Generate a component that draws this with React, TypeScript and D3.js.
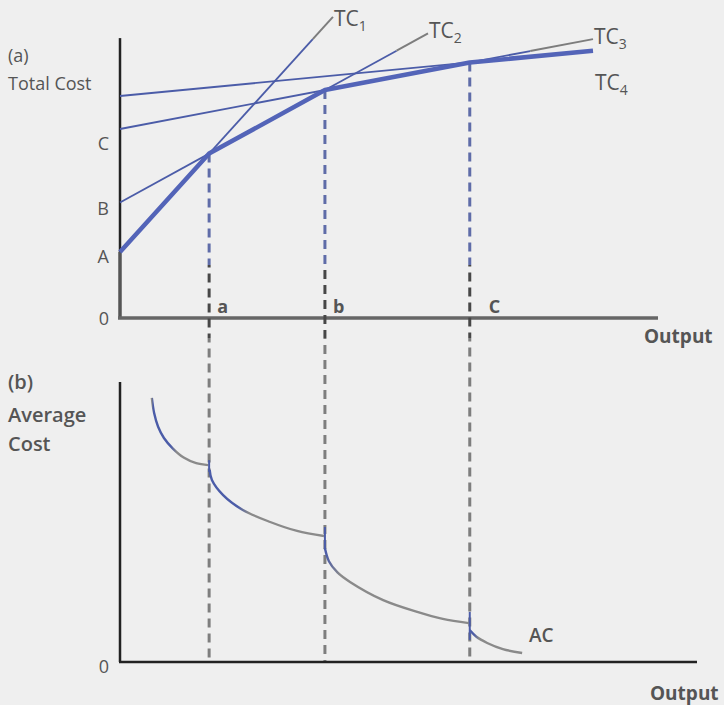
import React from 'react';
import * as d3 from 'd3';

const W = 724;
const H = 705;

// short-run total cost lines, TC = fixed cost + unit cost * output
const tcIndex = ['1', '2', '3', '4'];
const fixedCost = [2.2, 3.85, 6.3, 7.4];
const unitCost = [1.65, 0.82, 0.284, 0.143];
const lineEnd = [4.75, 6.87, 10.55, 10.55];
const greyTail = [0.45, 0.7, 1.4, 0];

const interceptLabels = ['A', 'B', 'C'];
const interceptLabelAt = [1.85, 3.43, 5.6];
const plantLabels = ['a', 'b', 'C'];

// average cost curve, one piece per plant [output, cost]
const acSeg1 = [[0.71, 9.43], [0.76, 8.9], [0.85, 8.4], [0.98, 8.0], [1.18, 7.62], [1.42, 7.3], [1.7, 7.1], [1.97, 7.03]];
const acSeg2 = [[2.0, 6.86], [2.05, 6.5], [2.3, 5.96], [2.74, 5.43], [3.35, 5.0], [3.95, 4.68], [4.55, 4.5]];
const acSeg3 = [[4.57, 4.07], [4.66, 3.6], [4.85, 3.2], [5.13, 2.86], [5.87, 2.21], [6.63, 1.79], [7.2, 1.54], [7.78, 1.39]];
const acSeg4 = [[7.8, 1.14], [7.95, 0.9], [8.19, 0.68], [8.54, 0.46], [8.97, 0.32]];
const acBlueUntil = [1.2, 2.75, 4.75, 7.95];
const kinkTop = [7.21, 4.82, 1.79];
const kinkBottom = [6.79, 4.0, 0.79];

const BLUE = '#4b5ca8';
const THICK = '#5364b8';
const GREY = '#8a8a8a';
const TEXT = '#555555';
const FONT = '"Open Sans", Lato, sans-serif';

export default function App() {
  const x = d3.scaleLinear().domain([0, 12]).range([120, 658]);
  const yTop = d3.scaleLinear().domain([0, 10]).range([318, 18]);
  const yBot = d3.scaleLinear().domain([0, 10]).range([662, 382]);

  const tc = (i: number, q: number) => fixedCost[i] + unitCost[i] * q;

  // breakpoints of the long-run envelope
  const breaks = [0, 1, 2].map(i => (fixedCost[i + 1] - fixedCost[i]) / (unitCost[i] - unitCost[i + 1]));
  const envPts: [number, number][] = [[0, tc(0, 0)]];
  breaks.forEach((q, i) => envPts.push([q, tc(i, q)]));
  envPts.push([lineEnd[3], tc(3, lineEnd[3])]);

  const topLine = d3.line<[number, number]>().x(d => x(d[0])).y(d => yTop(d[1]));
  const acLine = d3.line<number[]>().x(d => x(d[0])).y(d => yBot(d[1])).curve(d3.curveCatmullRom.alpha(0.5));
  const segs = [acSeg1, acSeg2, acSeg3, acSeg4];

  return (
    <svg width={W} height={H} style={{ position: 'absolute', left: 0, top: 0, display: 'block' }}
      fontFamily={FONT}>
      <defs>
        <linearGradient id="dash" gradientUnits="userSpaceOnUse" x1="0" y1="0" x2="0" y2={H}>
          <stop offset={265 / H} stopColor="#5f6ca8" />
          <stop offset={265 / H} stopColor="#474747" />
          <stop offset={338 / H} stopColor="#474747" />
          <stop offset={338 / H} stopColor="#7e7e7e" />
        </linearGradient>
        {segs.map((s, i) => {
          const x0 = x(s[0][0]);
          const x1 = x(s[s.length - 1][0]);
          const t = (x(acBlueUntil[i]) - x0) / (x1 - x0);
          return (
            <linearGradient key={i} id={`ac${i}`} gradientUnits="userSpaceOnUse" x1={x0} y1="0" x2={x1} y2="0">
              <stop offset={0} stopColor={i === 0 ? GREY : BLUE} />
              <stop offset={i === 0 ? 0.02 : 0} stopColor={BLUE} />
              <stop offset={Math.max(0, t - 0.05)} stopColor={BLUE} />
              <stop offset={Math.min(1, t + 0.05)} stopColor={GREY} />
            </linearGradient>
          );
        })}
      </defs>
      <rect width={W} height={H} fill="#efefef" />

      {/* panel (a) */}
      <line x1={120} x2={120} y1={yTop(9.33)} y2={yTop(2.2)} stroke="#222" strokeWidth={2.5} />
      <line x1={120} x2={120} y1={yTop(2.2)} y2={yTop(0)} stroke="#555" strokeWidth={3.5} />
      <line x1={118} x2={x(12)} y1={yTop(0)} y2={yTop(0)} stroke="#666" strokeWidth={3.5} />

      {breaks.map((q, i) => (
        <line key={i} x1={x(q)} x2={x(q)} y1={yTop(tc(i, q))} y2={yBot(0)}
          stroke="url(#dash)" strokeWidth={3} strokeDasharray="9 6" />
      ))}

      {tcIndex.map((_, i) => {
        const blueEnd = lineEnd[i] - greyTail[i];
        return (
          <g key={i}>
            <path d={topLine([[0, tc(i, 0)], [blueEnd, tc(i, blueEnd)]]) || ''} stroke={BLUE} strokeWidth={1.8} fill="none" />
            {greyTail[i] > 0 && (
              <path d={topLine([[blueEnd, tc(i, blueEnd)], [lineEnd[i], tc(i, lineEnd[i])]]) || ''}
                stroke="#7d7d7d" strokeWidth={2} fill="none" />
            )}
          </g>
        );
      })}
      <path d={topLine(envPts) || ''} stroke={THICK} strokeWidth={4.5} fill="none" strokeLinejoin="round" />

      {[0, 1, 2].map(i => (
        <text key={i} x={x(lineEnd[i]) + 1} y={yTop(tc(i, lineEnd[i])) + (i === 0 ? 9 : 5)} fill={TEXT} fontSize={21}>
          TC<tspan fontSize={14} dy={5}>{tcIndex[i]}</tspan>
        </text>
      ))}
      <text x={x(lineEnd[3]) + 2} y={yTop(tc(3, lineEnd[3])) + 39} fill={TEXT} fontSize={21}>
        TC<tspan fontSize={14} dy={5}>{tcIndex[3]}</tspan>
      </text>

      {interceptLabels.map((l, i) => (
        <text key={l} x={109} y={yTop(interceptLabelAt[i])} fill={TEXT} fontSize={18} textAnchor="end">{l}</text>
      ))}
      <text x={109} y={325} fill={TEXT} fontSize={18} textAnchor="end">0</text>
      {plantLabels.map((l, i) => (
        <text key={l} x={x(breaks[i]) + (i === 2 ? 19 : 8)} y={313} fill={TEXT} fontSize={18} fontWeight={700}>{l}</text>
      ))}
      <text x={8} y={62} fill={TEXT} fontSize={18}>(a)</text>
      <text x={8} y={90} fill={TEXT} fontSize={18}>Total Cost</text>
      <text x={644} y={343} fill={TEXT} fontSize={19} fontWeight={700}>Output</text>

      {/* panel (b) */}
      <line x1={120} x2={120} y1={yBot(10)} y2={yBot(0)} stroke="#222" strokeWidth={2.5} />
      <line x1={119} x2={697} y1={yBot(0)} y2={yBot(0)} stroke="#222" strokeWidth={2.5} />

      {segs.map((s, i) => (
        <path key={i} d={acLine(s) || ''} stroke={`url(#ac${i})`} strokeWidth={2.4} fill="none" />
      ))}
      {breaks.map((q, i) => (
        <line key={i} x1={x(q)} x2={x(q)} y1={yBot(kinkTop[i])} y2={yBot(kinkBottom[i])} stroke={BLUE} strokeWidth={2} />
      ))}

      <text x={529} y={642} fill={TEXT} fontSize={19} fontWeight={600}>AC</text>
      <text x={8} y={389} fill={TEXT} fontSize={20} fontWeight={600}>(b)</text>
      <text x={8} y={422} fill={TEXT} fontSize={20} fontWeight={600}>Average</text>
      <text x={8} y={451} fill={TEXT} fontSize={20} fontWeight={600}>Cost</text>
      <text x={109} y={673} fill={TEXT} fontSize={18} textAnchor="end">0</text>
      <text x={650} y={700} fill={TEXT} fontSize={19} fontWeight={700}>Output</text>
    </svg>
  );
}
